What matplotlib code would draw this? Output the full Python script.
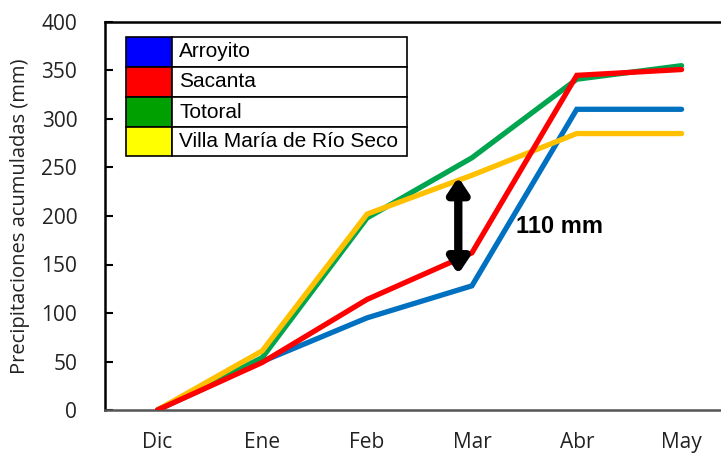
import matplotlib
matplotlib.use("Agg")
import matplotlib.pyplot as plt
from matplotlib.patches import Rectangle

months = ["Dic", "Ene", "Feb", "Mar", "Abr", "May"]
series_names = ["Arroyito", "Sacanta", "Totoral", "Villa María de Río Seco"]
arroyito = [0, 50, 95, 128, 310, 310]
sacanta = [0, 49, 114, 162, 345, 351]
totoral = [0, 54, 198, 260, 341, 355]
villa_maria = [0, 61, 202, 242, 285, 285]
line_colors = ["#0070C0", "#FF0000", "#00A550", "#FFC000"]
legend_colors = ["#0000FF", "#FF0000", "#00A000", "#FFFF00"]
yticks = [0, 50, 100, 150, 200, 250, 300, 350, 400]
arrow_x = 2.87
arrow_top, arrow_bottom = 240, 140
annotation = "110 mm"

W, H = 721, 453
fig = plt.figure(figsize=(W / 100, H / 100), dpi=100)
L, R, B, T = 105, 734, 410, 22
ax = fig.add_axes([L / W, 1 - B / H, (R - L) / W, (B - T) / H])

x = list(range(len(months)))
data = [arroyito, sacanta, totoral, villa_maria]
order = [0, 2, 3, 1]
for i in order:
    ax.plot(x, data[i], color=line_colors[i], lw=3.8, solid_capstyle="round",
            solid_joinstyle="miter", zorder=3 + order.index(i))

ax.set_xlim(-0.5, 5.5)
ax.set_ylim(0, 400)
ax.set_yticks(yticks)
ax.set_xticks(x)
ax.set_xticklabels(months)
for s in ["top", "left"]:
    ax.spines[s].set_color("black")
    ax.spines[s].set_linewidth(1.8)
ax.spines["bottom"].set_color("#555555")
ax.spines["bottom"].set_linewidth(1.8)
ax.spines["right"].set_visible(False)
ax.tick_params(axis="y", direction="in", length=6, width=1.5, pad=20,
               labelsize=15, labelcolor="#222222")
ax.tick_params(axis="x", length=0, pad=16, labelsize=15, labelcolor="#222222")
for lab in ax.get_xticklabels() + ax.get_yticklabels():
    lab.set_family("Open Sans")
ax.set_ylabel("Precipitaciones acumuladas (mm)", family="Open Sans",
              fontsize=14.5, color="#222222", labelpad=8)

# double-headed arrow
ax.annotate("", xy=(arrow_x, arrow_top), xytext=(arrow_x, arrow_bottom),
            arrowprops=dict(arrowstyle="<|-|>,head_length=0.9,head_width=0.6",
                            color="black", lw=6, shrinkA=0, shrinkB=0),
            zorder=10)
ax.text(3.42, 189, annotation, fontsize=17, fontweight="bold",
        family="Liberation Sans", ha="left", va="center", zorder=10)

# legend drawn as table
def fx(px):
    return (px - L) / (R - L)

def fy(py):
    return (B - py) / (B - T)

rows = [37, 67, 97, 127, 156]
x0, x1, x2 = 126, 172, 407
for i, name in enumerate(series_names):
    ytop, ybot = rows[i], rows[i + 1]
    ax.add_patch(Rectangle((fx(x0), fy(ybot)), fx(x1) - fx(x0), fy(ytop) - fy(ybot),
                           transform=ax.transAxes, facecolor=legend_colors[i],
                           edgecolor="black", lw=1.2, zorder=20))
    ax.add_patch(Rectangle((fx(x1), fy(ybot)), fx(x2) - fx(x1), fy(ytop) - fy(ybot),
                           transform=ax.transAxes, facecolor="white",
                           edgecolor="black", lw=1.2, zorder=20))
    ax.text(fx(x1 + 7), (fy(ytop) + fy(ybot)) / 2, name, transform=ax.transAxes,
            family="Liberation Sans", fontsize=15, va="center", ha="left", zorder=21)

fig.savefig("out.png", dpi=100)
